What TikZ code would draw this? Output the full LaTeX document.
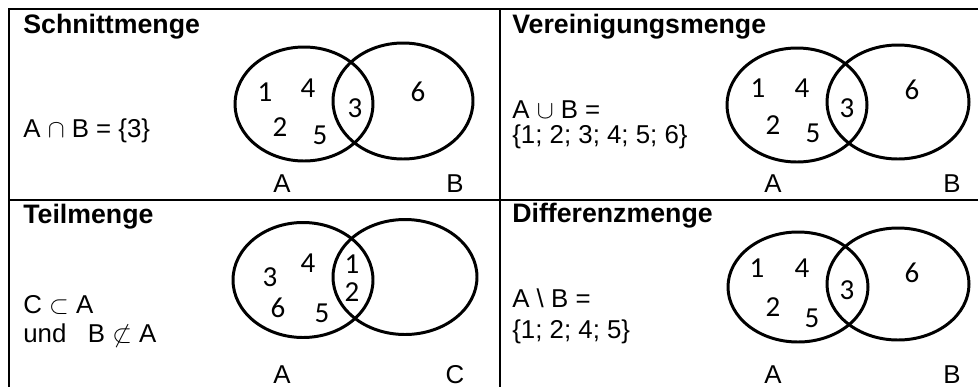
\documentclass[tikz,border=0pt]{standalone}
\usepackage{fontspec}
\setmainfont{Liberation Sans}
\newfontfamily\zahlfont{Carlito}
\begin{document}
\begin{tikzpicture}[x=0.02cm,y=-0.02cm,
  titel/.style={anchor=base west,inner sep=0pt,font=\fontsize{15.2}{18}\selectfont\bfseries},
  formel/.style={anchor=base west,inner sep=0pt,font=\fontsize{14.7}{18}\selectfont},
  etikett/.style={anchor=base,inner sep=0pt,font=\fontsize{14.7}{18}\selectfont},
  zahl/.style={inner sep=0pt,font=\fontsize{16.5}{18}\selectfont\zahlfont},
  menge/.style={line width=1.7pt},
  rahmen/.style={line width=1.15pt}]
  \useasboundingbox (0,0) rectangle (978,386);
  % Tabelle
  \draw[rahmen] (9,395) -- (9,9) -- (985,9);
  \draw[rahmen] (500,9) -- (500,395);
  \draw[rahmen] (9,200) -- (985,200);

  % Schnittmenge
  \node[titel] (t1) at (23,33) {Schnittmenge};
  \node[formel] (f1) at (23,137) {A $\cap$ B = \{3\}};
  \draw[menge] (304,104) ellipse [x radius=69, y radius=57];
  \draw[menge] (403,101) ellipse [x radius=70, y radius=58];
  \node[zahl] (s1) at (265,92) {1};
  \node[zahl] (s4) at (308,88) {4};
  \node[zahl] (s2) at (280,127) {2};
  \node[zahl] (s5) at (320,135) {5};
  \node[zahl] (s3) at (355,108) {3};
  \node[zahl] (s6) at (418,92) {6};
  \node[etikett] (sA) at (282,192) {A};
  \node[etikett] (sB) at (455,192) {B};

  % Vereinigungsmenge
  \node[titel] (t2) at (512,33) {Vereinigungsmenge};
  \node[formel] (f2a) at (512,118) {A $\cup$ B =};
  \node[formel] (f2b) at (512,143) {\{1; 2; 3; 4; 5; 6\}};
  \draw[menge] (797,105) ellipse [x radius=70, y radius=57];
  \draw[menge] (898,102) ellipse [x radius=71, y radius=57];
  \node[zahl] (v1) at (758,88) {1};
  \node[zahl] (v4) at (802,88) {4};
  \node[zahl] (v2) at (773,125) {2};
  \node[zahl] (v5) at (813,133) {5};
  \node[zahl] (v3) at (847,108) {3};
  \node[zahl] (v6) at (912,90) {6};
  \node[etikett] (vA) at (773,192) {A};
  \node[etikett] (vB) at (952,192) {B};

  % Teilmenge
  \node[titel] (t3) at (23,223) {Teilmenge};
  \node[formel] (f3a) at (23,313) {C $\subset$ A};
  \node[formel] (f3b) at (23,342) {und\ \ \ B $\not\subset$ A};
  \draw[menge] (303,280) ellipse [x radius=70, y radius=57.5];
  \draw[menge] (405,277) ellipse [x radius=72, y radius=57.5];
  \node[zahl] (m3) at (270,277) {3};
  \node[zahl] (m4) at (308,263) {4};
  \node[zahl] (m6) at (278,308) {6};
  \node[zahl] (m5) at (322,313) {5};
  \node[zahl] (m1) at (352,264) {1};
  \node[zahl] (m2) at (352,292) {2};
  \node[etikett] (mA) at (282,383) {A};
  \node[etikett] (mC) at (455,383) {C};

  % Differenzmenge
  \node[titel] (t4) at (512,222) {Differenzmenge};
  \node[formel] (f4a) at (512,307) {A \textbackslash{} B =};
  \node[formel] (f4b) at (512,338) {\{1; 2; 4; 5\}};
  \draw[menge] (798,287) ellipse [x radius=70, y radius=55];
  \draw[menge] (898,284) ellipse [x radius=71, y radius=56];
  \node[zahl] (d1) at (757,268) {1};
  \node[zahl] (d4) at (802,268) {4};
  \node[zahl] (d2) at (773,307) {2};
  \node[zahl] (d5) at (812,318) {5};
  \node[zahl] (d3) at (847,290) {3};
  \node[zahl] (d6) at (912,273) {6};
  \node[etikett] (dA) at (773,383) {A};
  \node[etikett] (dB) at (952,383) {B};
\end{tikzpicture}
\end{document}
